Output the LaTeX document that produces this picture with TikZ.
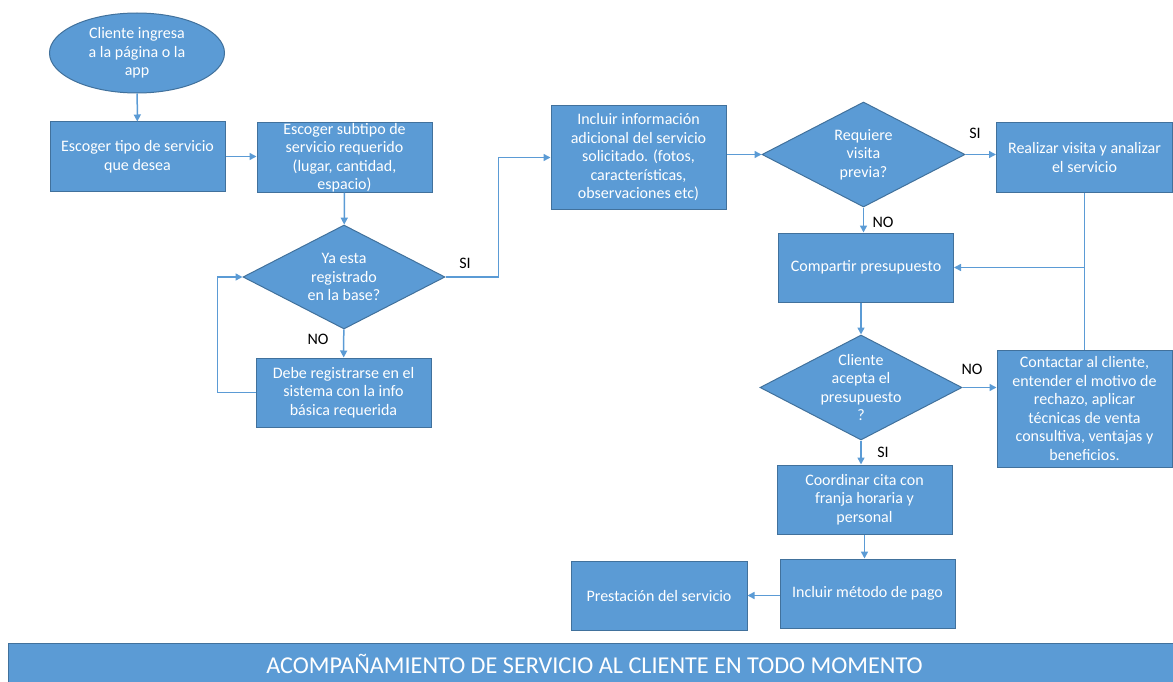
\documentclass[tikz,border=0pt]{standalone}
\usepackage{fontspec}
\setmainfont{Carlito}
\usetikzlibrary{shapes.geometric,arrows.meta}
\definecolor{ofblue}{HTML}{5B9BD5}
\definecolor{ofedge}{HTML}{41719C}
\begin{document}
\begin{tikzpicture}[x=1pt,y=-1pt,>={Triangle[length=7pt,width=7pt]},
    txt/.style={text=white,align=center,font=\fontsize{16}{18.5}\selectfont},
    box/.style={txt,draw=ofedge,fill=ofblue,line width=1pt,inner sep=0pt,minimum width=175pt,minimum height=69pt},
    dia/.style={diamond,draw=ofedge,fill=ofblue,line width=1pt,inner sep=0pt,minimum width=202pt,minimum height=104pt},
    lbl/.style={font=\fontsize{16}{18.5}\selectfont},
    arr/.style={->,draw=ofblue,line width=1.5pt},
    banner/.style={draw=ofedge,fill=ofblue,line width=1pt,text=white,font=\fontsize{24.2}{27}\selectfont,anchor=north west,minimum width=1172pt,minimum height=40pt,inner sep=0pt}]
  \useasboundingbox (0,0) rectangle (1173,682);
  \node[box,ellipse,minimum height=80pt] (ell) at (137,53) {Cliente ingresa\\a la página o la\\app};
  \node[box] (esc) at (137.5,156.5) {Escoger tipo de servicio\\que desea};
  \node[box] (sub) at (344.5,157.5) {Escoger subtipo de\\servicio requerido\\(lugar, cantidad,\\espacio)};
  \node[dia,label={[txt]center:Ya esta\\registrado\\en la base?}] (reg) at (344,277) {};
  \node[box] (deb) at (343.5,392.5) {Debe registrarse en el\\sistema con la info\\básica requerida};
  \node[box,minimum height=103pt] (inc) at (638.5,157.5) {Incluir información\\adicional del servicio\\solicitado. (fotos,\\características,\\observaciones etc)};
  \node[dia,minimum width=203pt,minimum height=105pt,label={[txt]center:Requiere\\visita\\previa?}] (vis) at (863.5,154.5) {};
  \node[box,minimum width=176pt] (rea) at (1084.5,157.5) {Realizar visita y analizar\\el servicio};
  \node[box] (com) at (866,267.5) {Compartir presupuesto};
  \node[dia,minimum height=105pt,label={[txt]center:Cliente\\acepta el\\presupuesto\\?}] (acp) at (861,387.5) {};
  \node[box,minimum height=117pt] (con) at (1084.5,408.5) {Contactar al cliente,\\entender el motivo de\\rechazo, aplicar\\técnicas de venta\\consultiva, ventajas y\\beneficios.};
  \node[box] (coo) at (864.5,499.5) {Coordinar cita con\\franja horaria y\\personal};
  \node[box] (met) at (867.5,593.5) {Incluir método de pago};
  \node[box,minimum width=176pt] (pre) at (659,595.5) {Prestación del servicio};
  \node[banner] (ban) at (8,643) {ACOMPAÑAMIENTO DE SERVICIO AL CLIENTE EN TODO MOMENTO};

  \draw[arr] (ell) -- (esc);
  \draw[arr] (esc.east) -- (esc.east -| sub.west);
  \draw[arr] (sub) -- (reg);
  \draw[arr] (reg) -- (deb);
  \draw[arr] (deb.west) -- ++(-38,0) |- (reg.west);
  \draw[arr] (reg.east) -- ++(53,0) |- (inc.west);
  \draw[arr] (vis.west -| inc.east) -- (vis.west);
  \draw[arr] (vis.east) -- (vis.east -| rea.west);
  \draw[arr] (vis.south) -- (vis.south |- com.north);
  \draw[ofblue,line width=1.5pt] (rea.south) -- (con.north);
  \coordinate (j) at (rea.south |- com.east);
  \draw[arr] (j) -- (com.east);
  \draw[arr] (acp.north |- com.south) -- (acp.north);
  \draw[arr] (acp.east) -- (acp.east -| con.west);
  \draw[arr] (acp.south) -- (acp.south |- coo.north);
  \draw[arr] (coo.south) -- (coo.south |- met.north);
  \draw[arr] (met.west |- pre.east) -- (pre.east);

  \node[lbl] (si1) at (465,263) {SI};
  \node[lbl] (no1) at (318,339) {NO};
  \node[lbl] (si2) at (975,133) {SI};
  \node[lbl] (no2) at (883,222) {NO};
  \node[lbl] (no3) at (972,369) {NO};
  \node[lbl] (si3) at (883,452) {SI};
\end{tikzpicture}
\end{document}
